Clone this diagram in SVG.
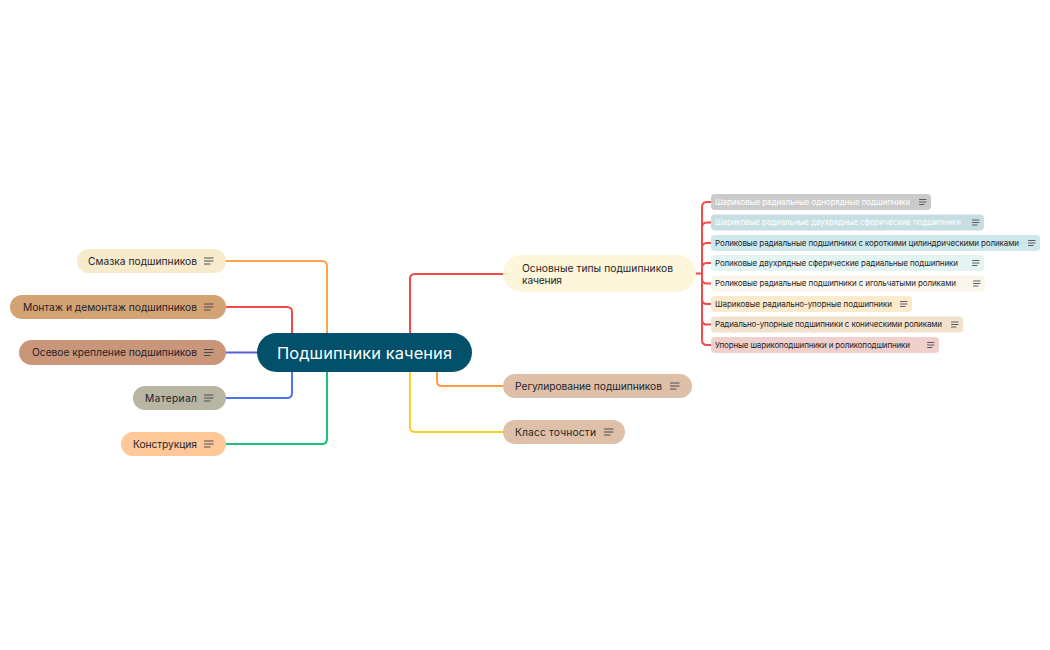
<svg xmlns="http://www.w3.org/2000/svg" width="1050" height="650" viewBox="0 0 1050 650">
<defs>
<style>
.t{font-family:Inter,"Noto Sans","Liberation Sans",sans-serif;font-size:10.25px;fill:#1e1f2b}
.lt{font-family:Inter,"Noto Sans","Liberation Sans",sans-serif;font-size:8px;fill:#1e1f2b}
.w{fill:#ffffff}
.c{fill:none;stroke-width:2;stroke-linecap:round}
.ic{stroke:#4a4a55;stroke-width:1.2;stroke-linecap:round}
.ics{stroke:#5a5a66;stroke-width:1;stroke-linecap:round}
</style>
<symbol id="note" viewBox="0 0 10 8" overflow="visible">
<path class="ic" d="M0.5,1 H9 M0.5,4 H9 M0.5,7 H6"/>
</symbol>
<symbol id="notes" viewBox="0 0 8 7" overflow="visible">
<path class="ics" d="M0.5,1 H7 M0.5,3.5 H7 M0.5,6 H5"/>
</symbol>
</defs>
<rect width="1050" height="650" fill="#ffffff"/>

<g id="connectors">
<path class="c" stroke="#FFA24C" d="M226,261 H322 Q327,261 327,266 V333"/>
<path class="c" stroke="#F44A4A" d="M226,307 H287 Q292,307 292,312 V333"/>
<path class="c" stroke="#5A5AD6" d="M226,352.5 H257"/>
<path class="c" stroke="#4D72F5" d="M226,398 H287 Q292,398 292,393 V372"/>
<path class="c" stroke="#1DC27A" d="M226,444 H322 Q327,444 327,439 V372"/>
<path class="c" stroke="#F44A4A" d="M410,333 V279 Q410,274 415,274 H503"/>
<path class="c" stroke="#FF9D45" d="M437,372 V381 Q437,386 442,386 H503"/>
<path class="c" stroke="#F8D22C" d="M410,372 V427 Q410,432 415,432 H503"/>
<g stroke="#F44A4A" class="c" stroke-width="1.5">
<path d="M695,273.5 H702"/>
<path d="M702,273.5 V207 Q702,202 707,202 H711"/>
<path d="M702,273.5 V227.5 Q702,222.5 707,222.5 H711"/>
<path d="M702,273.5 V248 Q702,243 707,243 H711"/>
<path d="M702,273.5 V268 Q702,263 707,263 H711"/>
<path d="M702,273.5 V278.5 Q702,283.5 707,283.5 H711"/>
<path d="M702,273.5 V299 Q702,304 707,304 H711"/>
<path d="M702,273.5 V319.5 Q702,324.5 707,324.5 H711"/>
<path d="M702,273.5 V340 Q702,345 707,345 H711"/>
</g>
</g>

<g id="root">
<rect x="257" y="333" width="215" height="39" rx="19.5" fill="#02506A"/>
<text x="277" y="358.5" textLength="175" font-family="Inter,'Noto Sans','Liberation Sans',sans-serif" font-size="16.4" fill="#ffffff">Подшипники качения</text>
</g>

<g id="n-smazka">
<rect x="77" y="249" width="149" height="24" rx="12" fill="#F8EBCB"/>
<text class="t" x="88" y="264.7" textLength="109">Смазка подшипников</text>
<use href="#note" x="204" y="257" width="10" height="8"/>
</g>
<g id="n-montazh">
<rect x="10" y="295" width="216" height="24" rx="12" fill="#D4A373"/>
<text class="t" x="23" y="310.7" textLength="174">Монтаж и демонтаж подшипников</text>
<use href="#note" x="204" y="303" width="10" height="8"/>
</g>
<g id="n-osevoe">
<rect x="19" y="340" width="207" height="25" rx="12.5" fill="#C9967A"/>
<text class="t" x="32" y="356.2" textLength="165">Осевое крепление подшипников</text>
<use href="#note" x="204" y="348.5" width="10" height="8"/>
</g>
<g id="n-material">
<rect x="133" y="386" width="93" height="24" rx="12" fill="#B8B6A3"/>
<text class="t" x="145" y="401.7" textLength="52">Материал</text>
<use href="#note" x="204" y="394" width="10" height="8"/>
</g>
<g id="n-konstr">
<rect x="121" y="432" width="105" height="24" rx="12" fill="#FFC898"/>
<text class="t" x="133" y="447.7" textLength="64">Конструкция</text>
<use href="#note" x="204" y="440" width="10" height="8"/>
</g>

<g id="n-osnovnye">
<rect x="503" y="255" width="193" height="37" rx="18.5" fill="#FDF6DA"/>
<text class="t" x="522" y="271.5" textLength="151">Основные типы подшипников</text>
<text class="t" x="522" y="284" textLength="40">качения</text>
</g>
<g id="n-regul">
<rect x="503" y="374" width="189" height="24" rx="12" fill="#DEC0A9"/>
<text class="t" x="515" y="389.7" textLength="147">Регулирование подшипников</text>
<use href="#note" x="670" y="382" width="10" height="8"/>
</g>
<g id="n-klass">
<rect x="503" y="420" width="122" height="24" rx="12" fill="#DEC0A9"/>
<text class="t" x="515" y="435.7" textLength="81">Класс точности</text>
<use href="#note" x="604" y="428" width="10" height="8"/>
</g>

<g id="leaf1">
<rect x="711" y="194" width="220" height="16" rx="4" fill="#CACACA"/>
<text class="lt w" x="715" y="204.9" textLength="195">Шариковые радиальные однорядные подшипники</text>
<use href="#notes" x="919" y="198.5" width="8" height="7"/>
</g>
<g id="leaf2">
<rect x="711" y="214.5" width="273" height="16" rx="4" fill="#C6DDE2"/>
<text class="lt w" x="715" y="225.4" textLength="246">Шариковые радиальные двухрядные сферические подшипники</text>
<use href="#notes" x="972" y="219" width="8" height="7"/>
</g>
<g id="leaf3">
<rect x="711" y="235" width="329" height="16" rx="4" fill="#CDE7EA"/>
<text class="lt" x="715" y="245.9" textLength="304">Роликовые радиальные подшипники с короткими цилиндрическими роликами</text>
<use href="#notes" x="1028" y="239.5" width="8" height="7"/>
</g>
<g id="leaf4">
<rect x="711" y="255" width="273" height="16" rx="4" fill="#E4F4F1"/>
<text class="lt" x="715" y="265.9" textLength="243">Роликовые двухрядные сферические радиальные подшипники</text>
<use href="#notes" x="972" y="259.5" width="8" height="7"/>
</g>
<g id="leaf5">
<rect x="711" y="275.5" width="274" height="16" rx="4" fill="#FBF6EB"/>
<text class="lt" x="715" y="286.4" textLength="241">Роликовые радиальные подшипники с игольчатыми роликами</text>
<use href="#notes" x="973" y="280" width="8" height="7"/>
</g>
<g id="leaf6">
<rect x="711" y="296" width="201" height="16" rx="4" fill="#FBEACB"/>
<text class="lt" x="715" y="306.9" textLength="177">Шариковые радиально-упорные подшипники</text>
<use href="#notes" x="900" y="300.5" width="8" height="7"/>
</g>
<g id="leaf7">
<rect x="711" y="316.5" width="252" height="16" rx="4" fill="#F2E1CC"/>
<text class="lt" x="715" y="327.4" textLength="227">Радиально-упорные подшипники с коническими роликами</text>
<use href="#notes" x="951" y="321" width="8" height="7"/>
</g>
<g id="leaf8">
<rect x="711" y="337" width="228" height="16" rx="4" fill="#EFD0CD"/>
<text class="lt" x="715" y="347.9" textLength="195">Упорные шарикоподшипники и роликоподшипники</text>
<use href="#notes" x="927" y="341.5" width="8" height="7"/>
</g>
</svg>
